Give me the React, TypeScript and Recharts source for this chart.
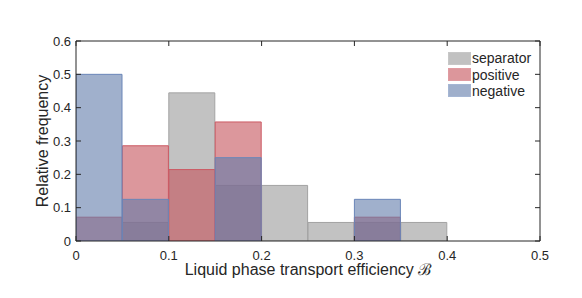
import React from 'react';
import { BarChart, Bar, XAxis, YAxis, Label } from 'recharts';

// histogram bins of width 0.05 from 0 to 0.5 (bin centres)
const binCentres = [0.025, 0.075, 0.125, 0.175, 0.225, 0.275, 0.325, 0.375, 0.425, 0.475];
const separator = [0, 0.0556, 0.4444, 0.1667, 0.1667, 0.0556, 0.0556, 0.0556, 0, 0];
const positive = [0.0714, 0.2857, 0.2143, 0.3571, 0, 0, 0.0714, 0, 0, 0];
const negative = [0.5, 0.125, 0, 0.25, 0, 0, 0.125, 0, 0, 0];

const xTicks = [0, 0.1, 0.2, 0.3, 0.4, 0.5];
const yTicks = [0, 0.1, 0.2, 0.3, 0.4, 0.5, 0.6];

const seriesNames = ['separator', 'positive', 'negative'];
const fills = ['#999999', '#c5525a', '#617baa'];
const strokes = ['#a3a3a3', '#cc5a64', '#6a86b8'];

const data = binCentres.map((mid, i) => ({
  mid,
  separator: separator[i],
  positive: positive[i],
  negative: negative[i],
}));

const INK = '#262626';
const FONT = '"Liberation Sans", Arial, Helvetica, sans-serif';

const LegendBox = () => (
  <div style={{ position: 'absolute', left: 448, top: 50, fontFamily: FONT, fontSize: 14, color: INK, lineHeight: 1 }}>
    {seriesNames.map((name, i) => (
      <div key={name} style={{ display: 'flex', alignItems: 'center', height: 16.4 }}>
        <span
          style={{
            display: 'inline-block',
            boxSizing: 'border-box',
            width: 23,
            height: 13,
            background: fills[i],
            opacity: 0.6,
            border: `1.5px solid ${strokes[i]}`,
            marginRight: 1,
          }}
        />
        <span>{name}</span>
      </div>
    ))}
  </div>
);

const numAxis = {
  type: 'number' as const,
  dataKey: 'mid',
  domain: [0, 0.5],
  allowDataOverflow: true,
  ticks: xTicks,
};

export default function App() {
  return (
    <div style={{ position: 'absolute', left: 0, top: 0, width: 582, height: 298, background: '#fff' }}>
      <BarChart
        width={582}
        height={298}
        data={data}
        margin={{ top: 40, right: 41, bottom: 0, left: 0 }}
        barCategoryGap={0}
        barGap={0}
        style={{ fontFamily: FONT }}
      >
        <XAxis
          xAxisId="s"
          {...numAxis}
          height={57}
          stroke={INK}
          tickSize={-5}
          tickMargin={15}
          tick={{ fontSize: 13, fill: INK }}
          interval={0}
        >
          <Label
            value="Liquid phase transport efficiency ℬ"
            position="center"
            dy={0}
            fill={INK}
            style={{ fontSize: 16 }}
          />
        </XAxis>
        {/* one hidden axis per extra series so the bars overlap */}
        <XAxis xAxisId="p" {...numAxis} height={0} hide />
        <XAxis xAxisId="n" {...numAxis} height={0} hide />
        <XAxis
          xAxisId="top"
          orientation="top"
          {...numAxis}
          height={1}
          stroke={INK}
          tickSize={-5}
          tickFormatter={() => ''}
          interval={0}
        />

        <YAxis
          type="number"
          domain={[0, 0.6]}
          allowDataOverflow
          ticks={yTicks}
          width={76}
          stroke={INK}
          tickSize={-5}
          tickMargin={10}
          tick={{ fontSize: 13, fill: INK }}
          interval={0}
        >
          <Label
            value="Relative frequency"
            angle={-90}
            position="center"
            dx={4}
            fill={INK}
            style={{ fontSize: 16, textAnchor: 'middle' }}
          />
        </YAxis>
        <YAxis
          yAxisId="right"
          orientation="right"
          type="number"
          domain={[0, 0.6]}
          allowDataOverflow
          ticks={yTicks}
          width={1}
          stroke={INK}
          tickSize={-5}
          tickFormatter={() => ''}
          interval={0}
        />

        <Bar xAxisId="s" dataKey="separator" fill={fills[0]} fillOpacity={0.6} stroke={strokes[0]} strokeWidth={1} isAnimationActive={false} />
        <Bar xAxisId="p" dataKey="positive" fill={fills[1]} fillOpacity={0.6} stroke={strokes[1]} strokeWidth={1} isAnimationActive={false} />
        <Bar xAxisId="n" dataKey="negative" fill={fills[2]} fillOpacity={0.6} stroke={strokes[2]} strokeWidth={1} isAnimationActive={false} />
      </BarChart>
      <LegendBox />
    </div>
  );
}
